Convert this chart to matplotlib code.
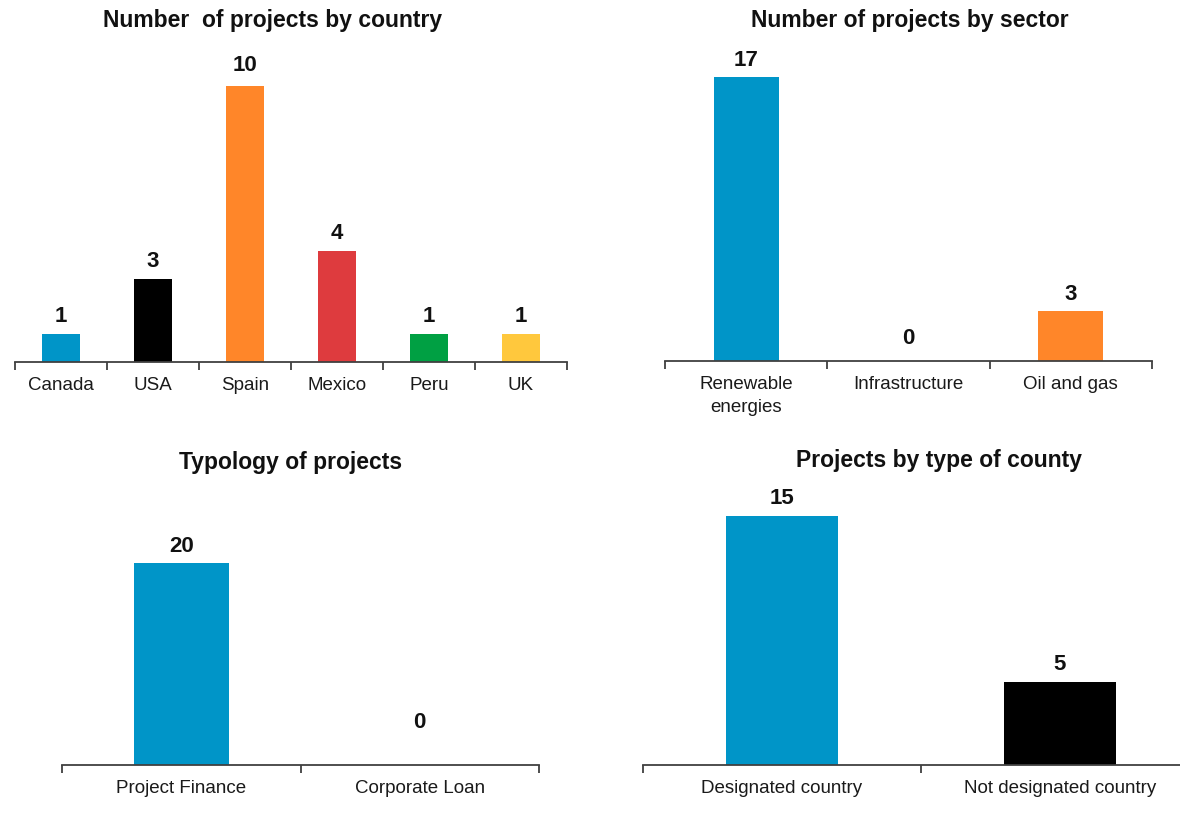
import matplotlib.pyplot as plt

plt.rcParams['font.family'] = ['Liberation Sans', 'DejaVu Sans']

# data
countries = ["Canada", "USA", "Spain", "Mexico", "Peru", "UK"]
country_counts = [1, 3, 10, 4, 1, 1]
country_colors = ["#0095C8", "#000000", "#FF8629", "#DE3B3E", "#00A043", "#FFC83D"]

sectors = ["Renewable\nenergies", "Infrastructure", "Oil and gas"]
sector_counts = [17, 0, 3]
sector_colors = ["#0095C8", "#0095C8", "#FF8629"]

typologies = ["Project Finance", "Corporate Loan"]
typology_counts = [20, 0]
typology_colors = ["#0095C8", "#0095C8"]

country_types = ["Designated country", "Not designated country"]
country_type_counts = [15, 5]
country_type_colors = ["#0095C8", "#000000"]

W, H = 1180, 837
fig = plt.figure(figsize=(W / 100, H / 100), dpi=100)


def make_axes(x0, x1, y_bottom, y_top):
    # pixel box -> figure fraction
    return fig.add_axes([x0 / W, 1 - y_bottom / H, (x1 - x0) / W, (y_bottom - y_top) / H])


def bar_panel(ax, labels, counts, colors, ymax, width, label_offsets):
    n = len(labels)
    xs = list(range(n))
    ax.bar(xs, counts, width=width, color=colors)
    for x, v, off in zip(xs, counts, label_offsets):
        ax.annotate(str(v), (x, v), xytext=(0, off), textcoords="offset points",
                    ha="center", va="bottom", fontsize=16, fontweight="bold",
                    color="#111111", annotation_clip=False)
    ax.set_xlim(-0.5, n - 0.5)
    ax.set_ylim(0, ymax)
    ax.set_xticks(xs)
    ax.set_xticklabels(labels, fontsize=13.5, color="#1a1a1a", linespacing=1.45)
    ax.set_xticks([i - 0.5 for i in range(n + 1)], minor=True)
    ax.tick_params(axis="x", which="major", length=0, pad=10)
    ax.tick_params(axis="x", which="minor", length=6, width=1.3, color="#404040", direction="out")
    ax.set_yticks([])
    for s in ["top", "left", "right"]:
        ax.spines[s].set_visible(False)
    ax.spines["bottom"].set_linewidth(1.3)
    ax.spines["bottom"].set_color("#404040")


ax1 = make_axes(15, 567, 363, 59)
bar_panel(ax1, countries, country_counts, country_colors, 11, 0.42, [6, 6, 8, 6, 6, 6])

ax2 = make_axes(665, 1152, 362, 61)
bar_panel(ax2, sectors, sector_counts, sector_colors, 18, 0.4, [5, 9, 5])

ax3 = make_axes(62, 539, 766, 513)
bar_panel(ax3, typologies, typology_counts, typology_colors, 25, 0.4, [5, 24])

ax4 = make_axes(643, 1199, 766, 484)
bar_panel(ax4, country_types, country_type_counts, country_type_colors, 17, 0.4, [6, 6])

title_kw = dict(ha="center", va="center", fontsize=16.5, fontweight="bold", color="#111111")
fig.text(273 / W, 1 - 20 / H, "Number  of projects by country", **title_kw)
fig.text(910 / W, 1 - 20 / H, "Number of projects by sector", **title_kw)
fig.text(291 / W, 1 - 463 / H, "Typology of projects", **title_kw)
fig.text(939 / W, 1 - 461 / H, "Projects by type of county", **title_kw)

fig.savefig("out.png", dpi=100, facecolor="white")
